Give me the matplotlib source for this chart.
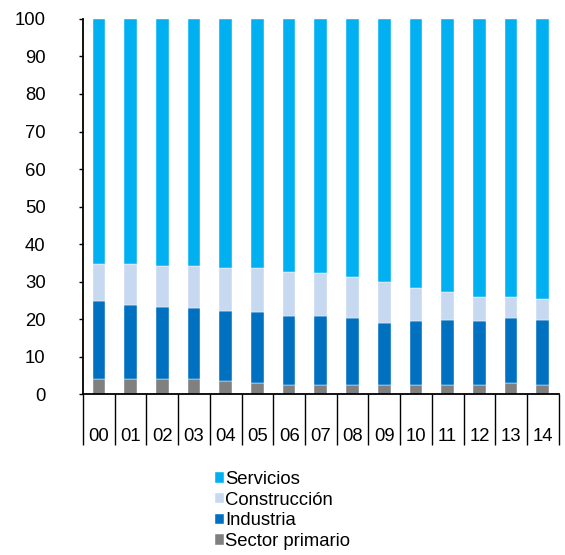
import numpy as np
import matplotlib.pyplot as plt
from matplotlib.ticker import FixedLocator

plt.rcParams['font.family'] = ['Liberation Sans', 'DejaVu Sans']

# -------------------------
#  データ（図から読み取り, %）
# -------------------------
years = ["00", "01", "02", "03", "04", "05", "06", "07",
         "08", "09", "10", "11", "12", "13", "14"]
primario = [4.0, 4.0, 4.0, 4.0, 3.5, 2.9, 2.4, 2.4,
            2.4, 2.4, 2.4, 2.4, 2.4, 2.9, 2.4]
industria = [20.8, 19.9, 19.3, 18.9, 18.8, 18.9, 18.4, 18.4,
             18.0, 16.6, 17.1, 17.5, 17.1, 17.5, 17.5]
construccion = [9.8, 10.7, 10.8, 11.2, 11.4, 11.9, 11.9, 11.4,
                10.8, 10.8, 8.8, 7.4, 6.3, 5.4, 5.4]
servicios = [100 - p - i - c for p, i, c in zip(primario, industria, construccion)]

labels = ["Servicios", "Construcción", "Industria", "Sector primario"]
colors = ["#00B0F0", "#C6D9F1", "#0070C0", "#808080"]

FS = 13.3

# -------------------------
#  描画
# -------------------------
fig = plt.figure(figsize=(5.65, 5.55), dpi=100)
ax = fig.add_axes([0.147, 0.2895, 0.8417, 0.6765])

x = np.arange(len(years))
w = 0.4
series = [primario, industria, construccion, servicios]
bottom = np.zeros(len(years))
handles = {}
for vals, lab, col in zip(series, labels[::-1], colors[::-1]):
    b = ax.bar(x, vals, w, bottom=bottom, color=col, edgecolor="white",
               linewidth=0.3, label=lab)
    handles[lab] = b
    bottom += np.array(vals)

ax.set_xlim(-0.5, len(years) - 0.5)
ax.set_ylim(0, 100)
ax.set_yticks(np.arange(0, 101, 10))
ax.tick_params(axis="y", direction="out", length=3, width=1, pad=24,
               labelsize=FS)

ax.set_xticks(x)
ax.set_xticklabels(years)
ax.xaxis.set_minor_locator(FixedLocator(np.arange(-0.5, len(years), 1.0)))
ax.tick_params(axis="x", which="major", length=0, pad=24, labelsize=FS)
ax.tick_params(axis="x", which="minor", length=37, width=1, direction="out")

for s in ["top", "right"]:
    ax.spines[s].set_visible(False)
for s in ["left", "bottom"]:
    ax.spines[s].set_linewidth(1.3)

fig.legend([handles[l] for l in labels], labels,
           loc="upper left", bbox_to_anchor=(215 / 565, 1 - 471 / 555),
           frameon=False, fontsize=FS, handlelength=0.5, handleheight=0.5,
           handletextpad=0.05, labelspacing=0.2, borderpad=0,
           borderaxespad=0)

fig.savefig("out.png", dpi=100)
